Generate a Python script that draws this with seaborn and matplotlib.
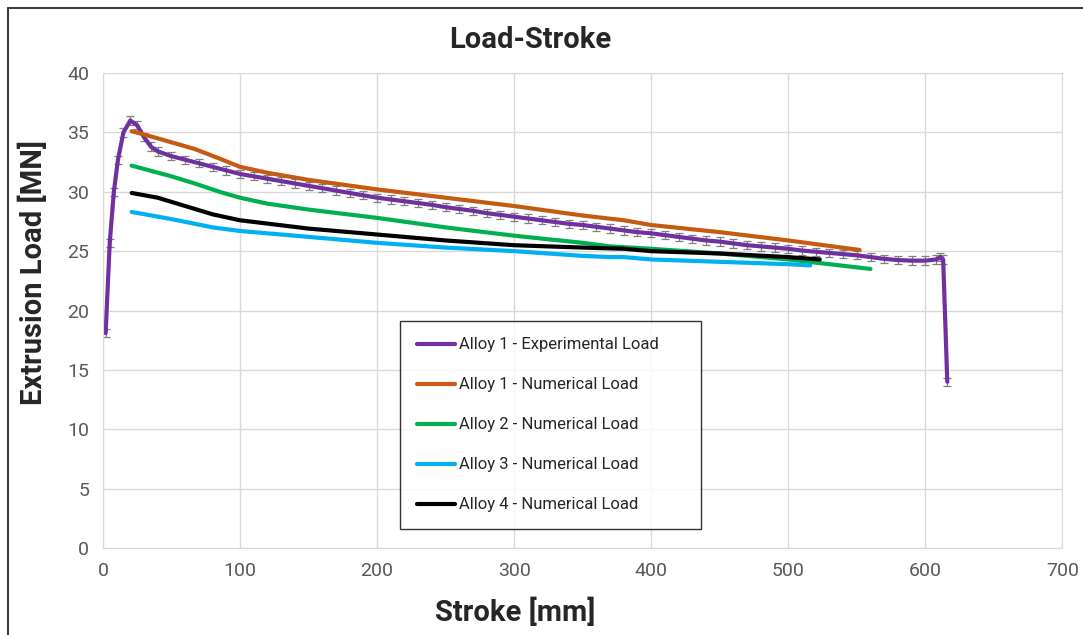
import pandas as pd
import seaborn as sns
import matplotlib.pyplot as plt
from matplotlib.lines import Line2D

# Alloy 1 - experimental load (stroke mm, load MN, error MN)
exp_x = [2, 5, 8, 11, 15, 20, 25, 30, 35, 40, 50, 60, 70, 80, 90, 100, 110, 120, 130,
         140, 150, 160, 170, 180, 190, 200, 210, 220, 230, 240, 250, 260, 270, 280,
         290, 300, 310, 320, 330, 340, 350, 360, 370, 380, 390, 400, 410, 420, 430,
         440, 450, 460, 470, 480, 490, 500, 510, 520, 530, 540, 550, 560, 570, 580,
         590, 600, 608, 611, 613, 616]
exp_y = [18.1, 25.7, 30.0, 32.7, 35.0, 36.0, 35.6, 34.6, 33.8, 33.4, 33.0, 32.7, 32.4,
         32.1, 31.8, 31.5, 31.3, 31.1, 30.9, 30.7, 30.5, 30.3, 30.1, 29.9, 29.7, 29.5,
         29.35, 29.2, 29.05, 28.9, 28.7, 28.55, 28.4, 28.2, 28.05, 27.9, 27.75, 27.6,
         27.45, 27.3, 27.2, 27.05, 26.9, 26.75, 26.6, 26.5, 26.35, 26.2, 26.05, 25.9,
         25.8, 25.65, 25.5, 25.4, 25.3, 25.2, 25.05, 24.95, 24.85, 24.75, 24.65, 24.5,
         24.35, 24.25, 24.2, 24.2, 24.3, 24.5, 24.3, 14.0]
exp_err = [0.35] * len(exp_x)

# numerical loads
a1_x = [21, 40, 67, 85, 100, 120, 150, 200, 250, 300, 350, 380, 400, 450, 500, 552]
a1_y = [35.1, 34.5, 33.6, 32.8, 32.1, 31.6, 31.0, 30.2, 29.5, 28.8, 28.0, 27.6, 27.2, 26.6, 25.9, 25.1]
a2_x = [21, 50, 67, 85, 100, 120, 150, 200, 250, 300, 350, 370, 400, 450, 500, 530, 560]
a2_y = [32.2, 31.3, 30.7, 30.0, 29.5, 29.0, 28.5, 27.8, 27.0, 26.3, 25.7, 25.4, 25.2, 24.8, 24.3, 23.9, 23.5]
a3_x = [21, 50, 80, 100, 150, 200, 250, 300, 350, 370, 380, 400, 450, 500, 516]
a3_y = [28.3, 27.7, 27.0, 26.7, 26.2, 25.7, 25.3, 25.0, 24.6, 24.5, 24.5, 24.3, 24.1, 23.9, 23.8]
a4_x = [21, 40, 60, 80, 100, 150, 200, 250, 300, 350, 380, 400, 450, 500, 523]
a4_y = [29.9, 29.5, 28.8, 28.1, 27.6, 26.9, 26.4, 25.9, 25.5, 25.3, 25.2, 25.0, 24.8, 24.5, 24.3]

names = ["Alloy 1 - Experimental Load", "Alloy 1 - Numerical Load", "Alloy 2 - Numerical Load",
         "Alloy 3 - Numerical Load", "Alloy 4 - Numerical Load"]
colors = ["#7030A0", "#C55A11", "#00B050", "#00B0F0", "#000000"]

frames = []
for name, xs, ys in zip(names, [exp_x, a1_x, a2_x, a3_x, a4_x], [exp_y, a1_y, a2_y, a3_y, a4_y]):
    frames.append(pd.DataFrame({"stroke": xs, "load": ys, "series": name}))
df = pd.concat(frames, ignore_index=True)

sns.set_style("white")
plt.rcParams["font.family"] = ["Roboto", "DejaVu Sans"]

fig = plt.figure(figsize=(10.83, 6.35), dpi=100)
ax = fig.add_axes([0.095, 0.137, 0.886, 0.748])

ax.errorbar(exp_x, exp_y, yerr=exp_err, fmt="none", ecolor="#7f7f7f",
            elinewidth=0.9, capsize=3, capthick=0.9, zorder=1)
sns.lineplot(data=df, x="stroke", y="load", hue="series", hue_order=names,
             palette=dict(zip(names, colors)), estimator=None, sort=False,
             linewidth=3, ax=ax, zorder=2)

ax.set_xlim(0, 700)
ax.set_ylim(0, 40)
ax.set_xticks(range(0, 701, 100))
ax.set_yticks(range(0, 41, 5))
ax.grid(True, color="#d9d9d9", linewidth=1)
ax.set_axisbelow(True)
for s in ax.spines.values():
    s.set_color("#d9d9d9")
ax.tick_params(axis="both", length=0, labelsize=14, labelcolor="#595959", pad=10)

ax.set_xlabel("Stroke [mm]", fontsize=21, fontweight="bold")
ax.set_ylabel("Extrusion Load [MN]", fontsize=21, fontweight="bold")
ax.xaxis.set_label_coords(0.43, -0.105)
ax.yaxis.set_label_coords(-0.057, 0.58)
fig.text(0.49, 0.937, "Load-Stroke", ha="center", va="center", fontsize=21, fontweight="bold")

leg = ax.legend(loc="lower left", bbox_to_anchor=(0.31, 0.04, 0.313, 0.436), mode="expand",
                borderaxespad=0, fontsize=12, frameon=True, fancybox=False, edgecolor="black",
                labelspacing=1.5, handlelength=2.3, handletextpad=0.2, borderpad=1.0)
leg.get_frame().set_linewidth(1.0)

# outer chart frame
fig.add_artist(Line2D([8 / 1083, 8 / 1083], [0, 1 - 8 / 635], color="#404040", lw=1.5))
fig.add_artist(Line2D([8 / 1083, 1], [1 - 8 / 635, 1 - 8 / 635], color="#404040", lw=1.5))

fig.savefig("out.png", dpi=100)
